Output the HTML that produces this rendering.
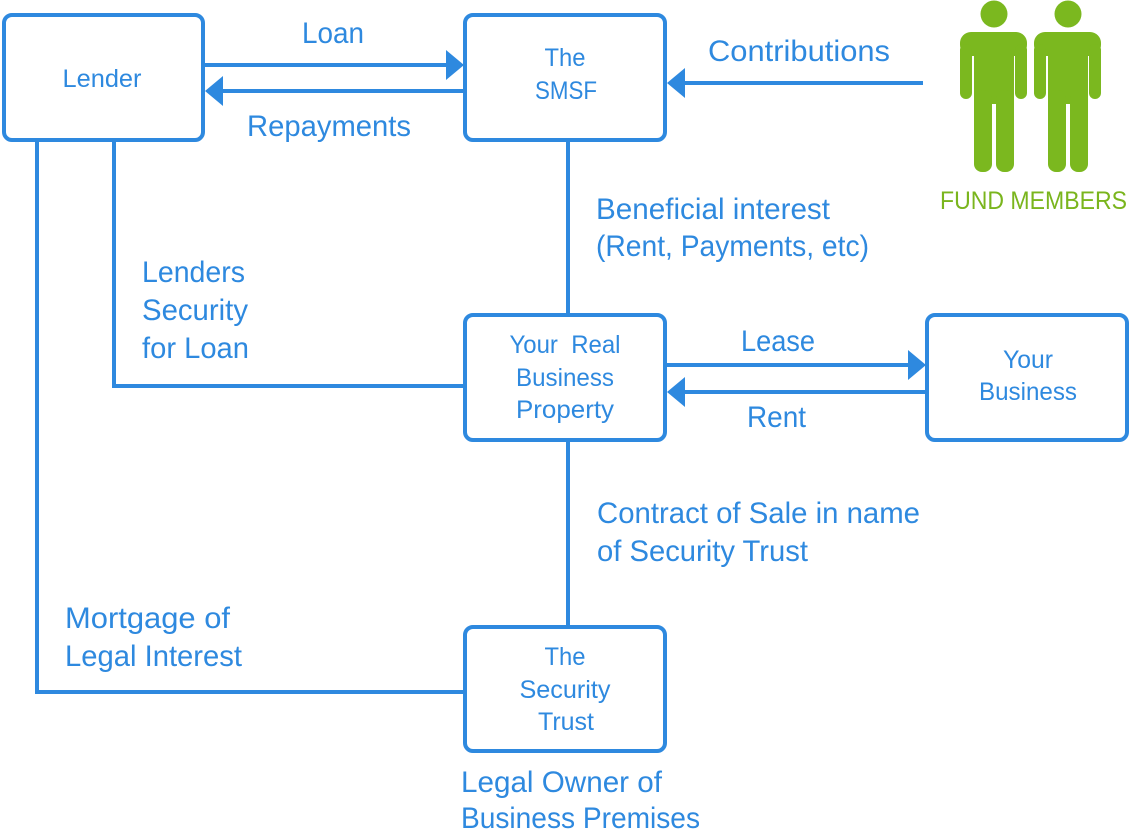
<!DOCTYPE html>
<html><head><meta charset="utf-8"><style>
html,body{margin:0;padding:0;background:#fff;}
svg{display:block;}
text{font-family:"Liberation Sans",Arial,sans-serif;fill:#2e89df;}
.b{font-size:25px;}
.l{font-size:30px;}
</style></head><body>
<svg width="1130" height="830" viewBox="0 0 1130 830" xmlns="http://www.w3.org/2000/svg">
<g fill="none" stroke="#2e89df" stroke-width="4">
  <rect x="4" y="15" width="199" height="125" rx="8"/>
  <rect x="465" y="15" width="200" height="125" rx="8"/>
  <rect x="465" y="315" width="200" height="125" rx="8"/>
  <rect x="927" y="315" width="200" height="125" rx="8"/>
  <rect x="465" y="627" width="200" height="124" rx="8"/>
  <line x1="205" y1="65" x2="448" y2="65"/>
  <line x1="463" y1="91" x2="220" y2="91"/>
  <line x1="923" y1="83" x2="682" y2="83"/>
  <line x1="667" y1="365" x2="910" y2="365"/>
  <line x1="925" y1="392" x2="682" y2="392"/>
  <line x1="568" y1="141" x2="568" y2="315"/>
  <line x1="568" y1="441" x2="568" y2="627"/>
  <polyline points="114,141 114,386 463,386"/>
  <polyline points="37,141 37,692 463,692"/>
</g>
<g fill="#2e89df">
  <polygon points="464,65 446,50 446,80"/>
  <polygon points="205,91 223,76 223,106"/>
  <polygon points="667,83 685,68 685,98"/>
  <polygon points="926,365 908,350 908,380"/>
  <polygon points="667,392 685,377 685,407"/>
</g>
<g fill="#7bb81f">
  <circle cx="994" cy="14" r="13.5"/>
  <rect x="960" y="32" width="67" height="24" rx="11"/>
  <rect x="960" y="44" width="12" height="55" rx="6"/>
  <rect x="1015" y="44" width="12" height="55" rx="6"/>
  <rect x="974" y="44" width="40" height="60"/>
  <rect x="974" y="90" width="18" height="82" rx="8"/>
  <rect x="996" y="90" width="18" height="82" rx="8"/>

  <circle cx="1068" cy="14" r="13.5"/>
  <rect x="1034" y="32" width="67" height="24" rx="11"/>
  <rect x="1034" y="44" width="12" height="55" rx="6"/>
  <rect x="1089" y="44" width="12" height="55" rx="6"/>
  <rect x="1048" y="44" width="40" height="60"/>
  <rect x="1048" y="90" width="18" height="82" rx="8"/>
  <rect x="1070" y="90" width="18" height="82" rx="8"/>
</g>
<text x="940" y="209" style="font-size:25px;fill:#7ab51d" textLength="187" lengthAdjust="spacingAndGlyphs">FUND MEMBERS</text>

<text class="b" x="102" y="87" text-anchor="middle" textLength="79" lengthAdjust="spacingAndGlyphs">Lender</text>
<text class="b" x="565" y="66" text-anchor="middle" textLength="41" lengthAdjust="spacingAndGlyphs">The</text>
<text class="b" x="566" y="99" text-anchor="middle" textLength="62" lengthAdjust="spacingAndGlyphs">SMSF</text>
<text class="b" x="565" y="353" text-anchor="middle" textLength="111" lengthAdjust="spacingAndGlyphs" xml:space="preserve">Your  Real</text>
<text class="b" x="565" y="386" text-anchor="middle" textLength="98" lengthAdjust="spacingAndGlyphs">Business</text>
<text class="b" x="565" y="418" text-anchor="middle" textLength="98" lengthAdjust="spacingAndGlyphs">Property</text>
<text class="b" x="1028" y="368" text-anchor="middle" textLength="50" lengthAdjust="spacingAndGlyphs">Your</text>
<text class="b" x="1028" y="400" text-anchor="middle" textLength="98" lengthAdjust="spacingAndGlyphs">Business</text>
<text class="b" x="565" y="665" text-anchor="middle" textLength="41" lengthAdjust="spacingAndGlyphs">The</text>
<text class="b" x="565" y="698" text-anchor="middle" textLength="91" lengthAdjust="spacingAndGlyphs">Security</text>
<text class="b" x="566" y="730" text-anchor="middle" textLength="56" lengthAdjust="spacingAndGlyphs">Trust</text>

<text class="l" x="302" y="43" textLength="62" lengthAdjust="spacingAndGlyphs">Loan</text>
<text class="l" x="247" y="136" textLength="164" lengthAdjust="spacingAndGlyphs">Repayments</text>
<text class="l" x="708" y="61" textLength="182" lengthAdjust="spacingAndGlyphs">Contributions</text>
<text class="l" x="596" y="219" textLength="234" lengthAdjust="spacingAndGlyphs">Beneficial interest</text>
<text class="l" x="596" y="256" textLength="273" lengthAdjust="spacingAndGlyphs">(Rent, Payments, etc)</text>
<text class="l" x="142" y="282" textLength="103" lengthAdjust="spacingAndGlyphs">Lenders</text>
<text class="l" x="142" y="320" textLength="106" lengthAdjust="spacingAndGlyphs">Security</text>
<text class="l" x="142" y="358" textLength="107" lengthAdjust="spacingAndGlyphs">for Loan</text>
<text class="l" x="741" y="351" textLength="74" lengthAdjust="spacingAndGlyphs">Lease</text>
<text class="l" x="747" y="427" textLength="59" lengthAdjust="spacingAndGlyphs">Rent</text>
<text class="l" x="597" y="523" textLength="323" lengthAdjust="spacingAndGlyphs">Contract of Sale in name</text>
<text class="l" x="597" y="561" textLength="211" lengthAdjust="spacingAndGlyphs">of Security Trust</text>
<text class="l" x="65" y="628" textLength="165" lengthAdjust="spacingAndGlyphs">Mortgage of</text>
<text class="l" x="65" y="666" textLength="177" lengthAdjust="spacingAndGlyphs">Legal Interest</text>
<text class="l" x="461" y="792" textLength="201" lengthAdjust="spacingAndGlyphs">Legal Owner of</text>
<text class="l" x="461" y="828" textLength="239" lengthAdjust="spacingAndGlyphs">Business Premises</text>
</svg>
</body></html>
